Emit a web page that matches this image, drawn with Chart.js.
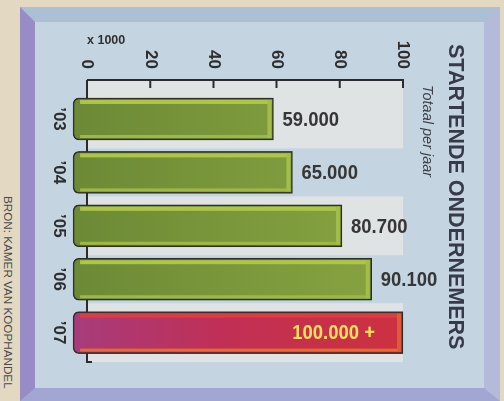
<!DOCTYPE html>
<html>
<head>
<meta charset="utf-8">
<script src="https://cdn.jsdelivr.net/npm/chart.js@4.4.1/dist/chart.umd.min.js"></script>
<style>
  html, body { margin: 0; padding: 0; }
  body { width: 504px; height: 401px; background: #e3d9c2; position: relative; overflow: hidden; font-family: "Liberation Sans", Arial, sans-serif; }
  #frame { position: absolute; left: 20px; top: 7px; width: 449px; height: 366px; background: #c4d5e1;
    border-left: 15px solid #978cc6; border-top: 15px solid #abbfd5; border-right: 16px solid #b4bbda; border-bottom: 13px solid #a1a6d3; }
  /* chart is drawn upright and turned a quarter clockwise, like the print */
  #plot { position: absolute; left: 0; top: 0; width: 364px; height: 448px; transform-origin: 0 0; transform: translate(484px, 23px) rotate(90deg); }
  .vert { position: absolute; writing-mode: vertical-rl; white-space: nowrap; }
  #title { left: 444px; top: 44px; width: 22px; font: bold 21.5px/1 "Liberation Sans", Arial, sans-serif; color: #373a48; }
  #sub { left: 420px; top: 85px; width: 15px; font: italic 14.5px/1 "Liberation Sans", Arial, sans-serif; color: #3c3f48; }
  #source { left: 2px; top: 196px; width: 12px; font: 11.7px/1 "Liberation Sans", Arial, sans-serif; color: #4a4a4a; }
  #unit { position: absolute; left: 87px; top: 34px; font: bold 12.5px/1 "Liberation Sans", Arial, sans-serif; color: #303030; }
</style>
</head>
<body>
<div id="frame"></div>
<div id="plot"><canvas id="chart" width="364" height="448"></canvas></div>
<div id="title" class="vert">STARTENDE ONDERNEMERS</div>
<div id="sub" class="vert">Totaal per jaar</div>
<div id="source" class="vert">BRON: KAMER VAN KOOPHANDEL</div>
<div id="unit">x 1000</div>
<script>
// data (x 1000)
const categories = ['\u201903', '\u201904', '\u201905', '\u201906', '\u201907'];
const values = [59, 65, 80.7, 90.1, 100];
const valueTicks = [0, 20, 40, 60, 80, 100];
const labelSuffix = ['', '', '', '', ' +'];
const highlight = [false, false, false, false, true];

const sans = '"Liberation Sans", Arial, sans-serif';

function fmt(v) {
  return Math.round(v * 1000).toString().replace(/\B(?=(\d{3})+(?!\d))/g, '.');
}

function barFill(ctx) {
  const chart = ctx.chart, ca = chart.chartArea;
  const hi = highlight[ctx.dataIndex];
  if (!ca) return hi ? '#c0304c' : '#7d9a3b';
  const g = chart.ctx.createLinearGradient(0, ca.bottom + 14, 0, ca.top);
  if (hi) {
    g.addColorStop(0, '#a73c7c');
    g.addColorStop(0.45, '#c02f55');
    g.addColorStop(1, '#cd3140');
  } else {
    g.addColorStop(0, '#6c8a36');
    g.addColorStop(1, '#89a541');
  }
  return g;
}

const decor = {
  id: 'decor',
  beforeDatasetsDraw(chart) {
    const c = chart.ctx, ca = chart.chartArea;
    const xs = chart.scales.x, ys = chart.scales.y;
    c.save();
    // plot background with alternate bands
    c.fillStyle = '#dfe3e3';
    c.fillRect(ca.left, ca.top, ca.right - ca.left, ca.bottom - ca.top);
    c.fillStyle = '#c4d5e1';
    categories.forEach((_, i) => {
      if (i % 2 === 1) {
        const px = xs.getPixelForValue(i);
        c.fillRect(px - 24, ca.top, 48, ca.bottom - ca.top);
      }
    });
    // axes, ticks pointing inward
    c.strokeStyle = '#2b2b2b';
    c.lineWidth = 2;
    c.beginPath();
    c.moveTo(ca.left, ca.bottom);
    c.lineTo(ca.left, ca.top - 1);
    valueTicks.filter(v => v > 0).forEach(v => {
      const py = ys.getPixelForValue(v);
      c.moveTo(ca.left, py);
      c.lineTo(ca.left + 8, py);
    });
    c.moveTo(ca.left, ca.bottom);
    c.lineTo(ca.right, ca.bottom);
    c.lineTo(ca.right, ca.bottom - 5);
    c.stroke();
    c.restore();
  },
  afterDatasetsDraw(chart) {
    const c = chart.ctx;
    const meta = chart.getDatasetMeta(0);
    meta.data.forEach((bar, i) => {
      const {x, y, base, width} = bar.getProps(['x', 'y', 'base', 'width'], true);
      const left = x - width / 2, right = x + width / 2;
      const hi = highlight[i];
      const len = base - y;
      c.save();
      // bevel strips
      c.fillStyle = hi ? '#dc3d42' : '#aec648';
      c.fillRect(left + 2, y + 2, 4, len - 9);
      c.fillStyle = hi ? '#e96a2e' : '#9db843';
      c.fillRect(right - 5, y + 2, 3, len - 9);
      c.fillStyle = hi ? '#e2583a' : '#a2bd48';
      c.fillRect(left + 2, y + 2, width - 4, 4);
      // value label (horizontal in the print)
      c.translate(x, hi ? y + 28 : y - 9);
      c.rotate(-Math.PI / 2);
      c.scale(0.88, 1);
      c.font = 'bold 21px ' + sans;
      c.textBaseline = 'middle';
      c.textAlign = hi ? 'right' : 'left';
      c.fillStyle = hi ? '#f3e25a' : '#363636';
      c.fillText(fmt(values[i]) + labelSuffix[i], 0, 1);
      c.restore();
    });
  }
};

new Chart(document.getElementById('chart'), {
  type: 'bar',
  data: {
    datasets: [{
      data: values.map((v, i) => ({x: i, y: v})),
      base: -4.4,
      clip: false,
      barThickness: 42,
      backgroundColor: barFill,
      borderColor: '#2e2e2a',
      borderWidth: 1.6,
      borderSkipped: false,
      borderRadius: {topLeft: 0, topRight: 0, bottomLeft: 6, bottomRight: 6}
    }]
  },
  options: {
    responsive: false,
    animation: false,
    layout: {padding: {top: 81, right: 25, left: 0, bottom: 0}},
    plugins: {legend: {display: false}, tooltip: {enabled: false}},
    scales: {
      x: {
        type: 'linear',
        offset: false,
        min: -0.73,
        max: 4.55,
        afterFit: s => { s.height = 51; },
        afterBuildTicks: s => { s.ticks = categories.map((_, i) => ({value: i})); },
        grid: {display: false, drawTicks: false, offset: false},
        border: {display: false},
        ticks: {
          padding: 18, autoSkip: false, maxRotation: 0,
          callback: v => categories[v],
          color: '#2e2e2e',
          font: {family: sans, size: 17, weight: 'bold'}
        }
      },
      y: {
        min: 0,
        max: 100,
        afterFit: s => { s.width = 57; },
        afterBuildTicks: s => { s.ticks = valueTicks.map(v => ({value: v})); },
        grid: {display: false, drawTicks: false},
        border: {display: false},
        ticks: {
          padding: 11,
          color: '#2e2e2e',
          font: {family: sans, size: 17, weight: 'bold'}
        }
      }
    }
  },
  plugins: [decor]
});
</script>
</body>
</html>
